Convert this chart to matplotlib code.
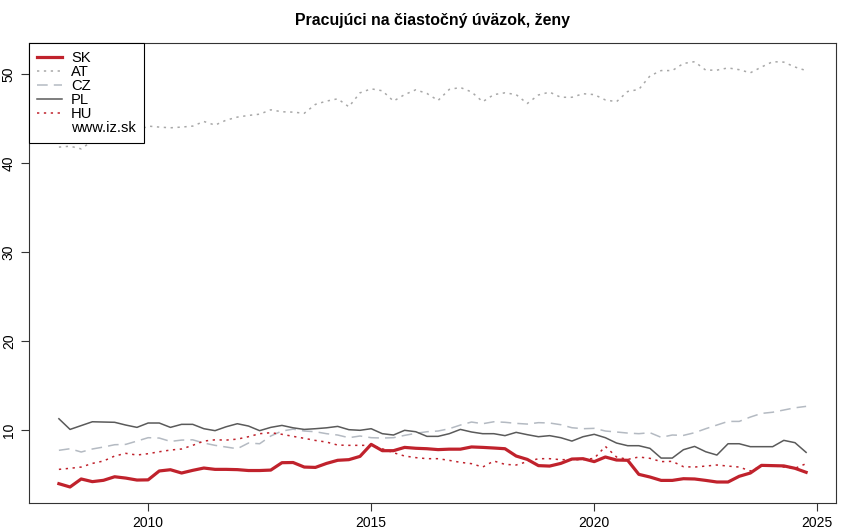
import numpy as np
import matplotlib
matplotlib.use("Agg")
import matplotlib.pyplot as plt
from matplotlib.lines import Line2D

plt.rcParams["font.family"] = ["Liberation Sans", "DejaVu Sans"]

# quarterly data, 2008 Q1 .. 2024 Q4
years = 2008 + np.arange(68) / 4

sk = [3.97, 3.6, 4.5, 4.2, 4.35, 4.75, 4.6, 4.38, 4.4, 5.4, 5.54, 5.17, 5.47, 5.73, 5.58, 5.58,
      5.55, 5.45, 5.45, 5.5, 6.33, 6.35, 5.84, 5.8, 6.25, 6.6, 6.67, 7.04, 8.39, 7.68, 7.68, 8.05,
      7.95, 7.9, 7.8, 7.85, 7.85, 8.1, 8.05, 7.98, 7.9, 7.08, 6.7, 6.0, 5.95, 6.25, 6.74, 6.78,
      6.45, 6.97, 6.63, 6.6, 5.02, 4.72, 4.34, 4.34, 4.53, 4.5, 4.34, 4.16, 4.16, 4.8, 5.17, 6.03,
      6.0, 5.97, 5.7, 5.25]

at = [41.8, 41.9, 41.6, 42.5, 42.8, 43.0, 43.3, 43.6, 44.16, 44.05, 43.97, 44.05, 44.16, 44.68, 44.27, 44.83,
      45.17, 45.36, 45.5, 45.99, 45.77, 45.73, 45.6, 46.6, 46.97, 47.23, 46.33, 47.9, 48.35, 48.13, 46.97, 47.7,
      48.24, 47.83, 47.04, 48.28, 48.5, 48.0, 46.9, 47.7, 47.9, 47.7, 46.7, 47.66, 47.98, 47.4, 47.4, 47.8,
      47.7, 47.1, 46.9, 48.05, 48.28, 49.8, 50.4, 50.4, 51.2, 51.4, 50.45, 50.45, 50.7, 50.5, 50.15, 50.8,
      51.4, 51.35, 50.8, 50.4]

cz = [7.72, 7.9, 7.53, 7.87, 8.09, 8.35, 8.39, 8.76, 9.14, 9.1, 8.72, 8.87, 8.9, 8.54, 8.28, 8.09,
      7.9, 8.54, 8.46, 9.33, 9.89, 10.1, 9.89, 9.81, 9.59, 9.44, 9.14, 9.33, 9.14, 9.1, 9.14, 9.4,
      9.63, 9.81, 9.89, 10.15, 10.56, 10.9, 10.71, 10.93, 10.87, 10.75, 10.67, 10.83, 10.79, 10.6, 10.26, 10.15,
      10.19, 9.89, 9.78, 9.66, 9.59, 9.7, 9.18, 9.44, 9.4, 9.7, 10.15, 10.56, 10.97, 10.97, 11.46, 11.87,
      12.0, 12.25, 12.5, 12.66]

pl = [11.27, 10.07, 10.5, 10.93, 10.9, 10.87, 10.56, 10.3, 10.79, 10.79, 10.3, 10.64, 10.64, 10.15, 9.93, 10.37,
      10.71, 10.45, 9.93, 10.3, 10.52, 10.25, 10.07, 10.15, 10.25, 10.41, 10.04, 9.97, 10.15, 9.59, 9.44, 9.97,
      9.81, 9.29, 9.29, 9.59, 10.07, 9.78, 9.59, 9.59, 9.37, 9.74, 9.48, 9.25, 9.37, 9.14, 8.76, 9.25,
      9.52, 9.14, 8.54, 8.24, 8.24, 7.94, 6.85, 6.85, 7.79, 8.16, 7.56, 7.19, 8.46, 8.46, 8.13, 8.13,
      8.13, 8.84, 8.58, 7.49]

hu = [5.58, 5.7, 5.84, 6.25, 6.52, 7.08, 7.38, 7.19, 7.34, 7.56, 7.75, 7.87, 8.28, 8.76, 8.9, 8.87,
      8.98, 9.25, 9.59, 9.7, 9.52, 9.29, 9.07, 8.83, 8.65, 8.31, 8.28, 8.28, 8.28, 7.9, 7.45, 7.08,
      6.9, 6.78, 6.78, 6.59, 6.37, 6.22, 5.84, 6.52, 6.14, 6.07, 6.45, 6.78, 6.78, 6.67, 6.67, 6.67,
      6.82, 8.16, 6.97, 6.7, 6.97, 6.82, 6.45, 6.48, 5.88, 5.84, 5.95, 6.07, 5.95, 5.84, 5.4, 5.95,
      6.0, 5.84, 5.7, 6.22]

red = "#C0222C"

fig = plt.figure(figsize=(8.5, 5.32), dpi=100)
ax = fig.add_axes([29 / 850, 1 - 503 / 532, 807 / 850, 460 / 532])

ax.plot(years, sk, color=red, lw=2.3, label="SK", zorder=5)
ax.plot(years, at, color="#A8A8A8", lw=1.1, ls=(0, (1.5, 3)), label="AT")
ax.plot(years, cz, color="#B4BAC2", lw=1.1, ls=(0, (7, 4)), label="CZ")
ax.plot(years, pl, color="#5A5A5A", lw=1.1, label="PL")
ax.plot(years, hu, color=red, lw=1.1, ls=(0, (1.5, 3)), label="HU")

ax.set_xlim(2007.33, 2025.42)
ax.set_ylim(1.8, 53.5)
ax.set_xticks([2010, 2015, 2020, 2025])
ax.set_yticks([10, 20, 30, 40, 50])
ax.tick_params(direction="out", length=6, width=0.8, labelsize=10, color="#333333")
for lab in ax.get_yticklabels():
    lab.set_rotation(90)
    lab.set_va("center")
for s in ax.spines.values():
    s.set_color("#333333")
    s.set_linewidth(0.8)

ax.set_title("Pracujúci na čiastočný úväzok, ženy", fontsize=11.4, fontweight="bold", pad=13)

handles, labels = ax.get_legend_handles_labels()
handles.append(Line2D([], [], color="none"))
labels.append("www.iz.sk")
leg = ax.legend(handles, labels, loc="upper left", borderaxespad=0, fancybox=False,
                edgecolor="black", framealpha=1, fontsize=10.6, handlelength=1.7,
                labelspacing=0.0, handletextpad=0.6, borderpad=0.55)
leg.get_frame().set_linewidth(0.8)
leg.set_zorder(10)

fig.savefig("out.png", dpi=100)
